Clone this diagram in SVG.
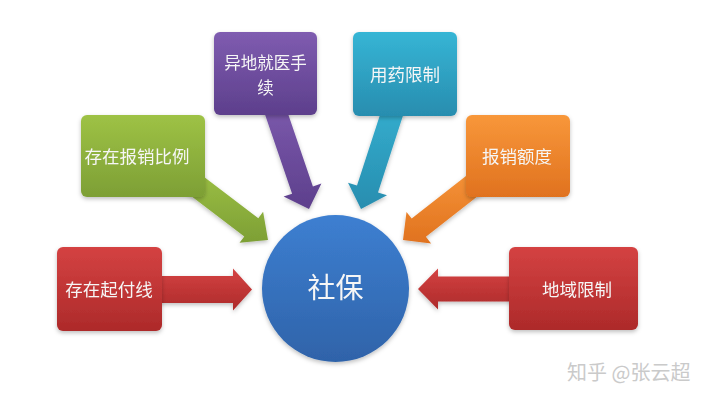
<svg xmlns="http://www.w3.org/2000/svg" width="720" height="402" viewBox="0 0 720 402">
  <defs>
    <linearGradient id="gRed" x1="0" y1="0" x2="0" y2="1"><stop offset="0" stop-color="#d44242"/><stop offset="1" stop-color="#ad2a2a"/></linearGradient>
    <linearGradient id="gGreen" x1="0" y1="0" x2="0" y2="1"><stop offset="0" stop-color="#9ec245"/><stop offset="1" stop-color="#7d9f35"/></linearGradient>
    <linearGradient id="gPurple" x1="0" y1="0" x2="0" y2="1"><stop offset="0" stop-color="#7f5cb0"/><stop offset="1" stop-color="#5d3f8c"/></linearGradient>
    <linearGradient id="gCyan" x1="0" y1="0" x2="0" y2="1"><stop offset="0" stop-color="#36b5d5"/><stop offset="1" stop-color="#288daf"/></linearGradient>
    <linearGradient id="gOrange" x1="0" y1="0" x2="0" y2="1"><stop offset="0" stop-color="#f8973a"/><stop offset="1" stop-color="#e0721f"/></linearGradient>
    <linearGradient id="gBlue" x1="0" y1="0" x2="0" y2="1"><stop offset="0" stop-color="#3d7fd1"/><stop offset="1" stop-color="#2f63a9"/></linearGradient>
    <filter id="sh" x="-10%" y="-10%" width="125%" height="130%">
      <feDropShadow dx="0" dy="2" stdDeviation="2" flood-color="#000" flood-opacity="0.25"/>
    </filter>
    <style>
      .lbl { font-family: "Noto Sans CJK SC", "Noto Sans", sans-serif; font-size: 17.5px; fill: #f6f6f6; text-anchor: middle; }
      .lbl2 { font-size: 16.5px; }
      .big { font-family: "Noto Sans CJK SC", "Noto Sans", sans-serif; font-size: 28px; fill: #f6f6f6; text-anchor: middle; }
      .wm { font-family: "Noto Sans CJK SC", "Noto Sans", sans-serif; font-size: 20px; fill: #cacaca; }
    </style>
  </defs>
  <rect width="720" height="402" fill="#ffffff"/>

  <g id="connectors" filter="url(#sh)">
    <polygon fill="url(#gRed)" points="150,303 233,303 233,310.5 252,289.5 233,268.5 233,276 150,276"/>
    <polygon fill="url(#gRed)" points="520,276.5 438,276.5 438,268.5 418,289 438,309.5 438,301.5 520,301.5"/>
    <polygon fill="url(#gGreen)" points="173.4,182.5 244.3,236.5 239.5,242.8 268,240 263.1,211.8 258.3,218.2 187.4,164.2"/>
    <polygon fill="url(#gPurple)" points="259.8,99.2 292.1,193.7 283.6,196.6 309,209 321.4,183.6 312.9,186.6 280.6,92.1"/>
    <polygon fill="url(#gCyan)" points="390.7,82 357,185.6 348,182.7 361,209 387,195.3 378,192.4 411.7,88.8"/>
    <polygon fill="url(#gOrange)" points="482.6,163.1 411.7,218.6 406.5,211.9 403,240 431.1,243.5 425.9,236.8 496.8,181.3"/>
  </g>

  <g id="node-qifuxian" filter="url(#sh)">
    <rect x="57" y="247" width="105" height="84" rx="6" fill="url(#gRed)"/>
    <text class="lbl" x="109" y="296">存在起付线</text>
  </g>
  <g id="node-baoxiaobili" filter="url(#sh)">
    <rect x="81" y="115" width="124" height="82" rx="6" fill="url(#gGreen)"/>
    <text class="lbl" x="137" y="163">存在报销比例</text>
  </g>
  <g id="node-yidijiuyi" filter="url(#sh)">
    <rect x="214" y="32" width="103" height="83" rx="6" fill="url(#gPurple)"/>
    <text class="lbl lbl2" x="265.5" y="69"><tspan x="265.5" y="69">异地就医手</tspan><tspan x="265.5" y="93.5">续</tspan></text>
  </g>
  <g id="node-yongyao" filter="url(#sh)">
    <rect x="353" y="32" width="104" height="84" rx="6" fill="url(#gCyan)"/>
    <text class="lbl" x="405" y="81">用药限制</text>
  </g>
  <g id="node-edu" filter="url(#sh)">
    <rect x="466" y="115" width="104" height="82" rx="6" fill="url(#gOrange)"/>
    <text class="lbl" x="517" y="163">报销额度</text>
  </g>
  <g id="node-diyu" filter="url(#sh)">
    <rect x="509" y="247" width="129" height="83" rx="6" fill="url(#gRed)"/>
    <text class="lbl" x="577" y="296">地域限制</text>
  </g>
  <g id="node-shebao" filter="url(#sh)">
    <circle cx="335.5" cy="288.5" r="73.5" fill="url(#gBlue)"/>
    <text class="big" x="335.5" y="298">社保</text>
  </g>

  <text class="wm" x="567" y="380">知乎 @张云超</text>
</svg>
